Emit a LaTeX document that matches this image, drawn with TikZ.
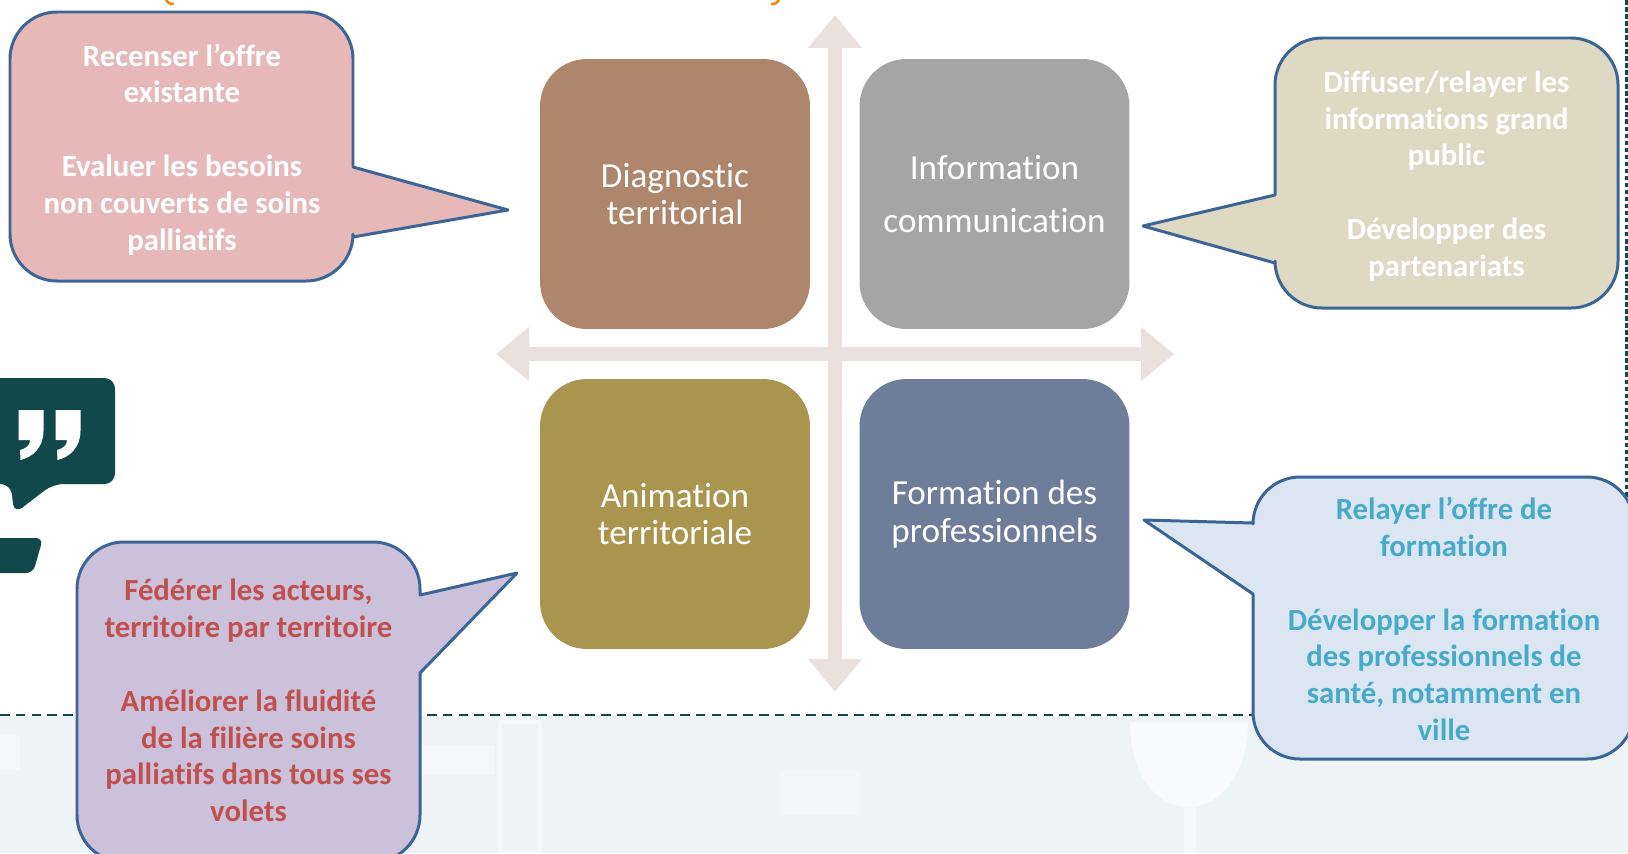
\documentclass[tikz,border=0pt]{standalone}
\usepackage{xcolor}
\usepackage{fontspec}
\setmainfont{Carlito}[Ligatures=NoCommon]
\usetikzlibrary{arrows.meta}
\definecolor{barcol}{HTML}{EAE1DE}
\definecolor{linecol}{HTML}{3B6497}
\definecolor{tealcol}{HTML}{10484B}
\definecolor{seacol}{HTML}{EEF4F6}
\definecolor{redtxt}{HTML}{C0504D}
\definecolor{cyantxt}{HTML}{46AAC8}
\tikzset{
	tile/.style={rounded corners=0.94cm,minimum width=5.4cm,minimum height=5.4cm,align=center,text=white,inner sep=0pt,font=\fontsize{20}{21.5}\selectfont},
	bubble/.style={draw=linecol,line width=1.7pt,line join=round},
	bubbletxt/.style={align=center,inner sep=0pt,font=\bfseries\fontsize{17.5}{21}\selectfont},
	crossbar/.style={barcol,line width=0.28cm,{Triangle[width=1.04cm,length=0.66cm]}-{Triangle[width=1.04cm,length=0.66cm]}},
}
\begin{document}
\begin{tikzpicture}[x=0.02cm,y=-0.02cm]
		\clip (0,0) rectangle (1628,853);
		\fill[white] (0,0) rectangle (1628,853);
		% sea at the bottom
		\fill[seacol] (0,716) rectangle (1628,853);
		\fill[white,opacity=0.6] (1130,722) -- (1248,722) .. controls (1248,780) and (1215,807) .. (1189,807) .. controls (1160,807) and (1130,780) .. (1130,722) -- cycle;
		\fill[white,opacity=0.4] (1184,807) rectangle (1196,853);
		\draw[white,opacity=0.4,line width=2pt] (500,722) rectangle (540,853);
		\fill[white,opacity=0.3] (0,735) rectangle (20,770);
		\fill[white,opacity=0.3] (420,745) rectangle (495,775);
		\fill[white,opacity=0.25] (780,770) rectangle (860,815);
		% dashed frame
		\coordinate (fl) at (0,715);
		\coordinate (fr) at (1628,715);
		\coordinate (ft) at (1626.5,0);
		\coordinate (fb) at (1626.5,500);
		\draw[tealcol,line width=1.1pt,dash pattern=on 5.5pt off 3.5pt] (fl) -- (fr);
		\draw[tealcol,line width=1.2pt,dash pattern=on 2.6pt off 1.4pt] (ft) -- (fb);
		% title ends
		\draw[orange,line width=1.4pt] (166,0) .. controls (167,3) and (170,4) .. (174,4);
		\draw[orange,line width=1.4pt] (771,4) .. controls (775,4) and (778,3) .. (779,0);
		% cross
		\coordinate (north) at (835,15);
		\coordinate (south) at (835,692);
		\coordinate (west) at (496,354);
		\coordinate (east) at (1174,354);
		\draw[crossbar] (north) -- (south);
		\draw[crossbar] (west) -- (east);
		% tiles
		\node[tile,fill={rgb,255:red,173;green,134;blue,108}] (diag) at (675,194) {Diagnostic\\territorial};
		\node[tile,fill={rgb,255:red,165;green,165;blue,165},font=\fontsize{20}{30}\selectfont] (info) at (994.5,194) {Information\\communication};
		\node[tile,fill={rgb,255:red,170;green,149;blue,79}] (anim) at (675,514) {Animation\\territoriale};
		\node[tile,fill={rgb,255:red,110;green,125;blue,153}] (form) at (994.5,514) {Formation des\\professionnels};
		% bubbles
		\draw[bubble,fill={rgb,255:red,230;green,184;blue,183}] (353,237) [rounded corners=0.94cm] -- (353,281) -- (10,281) -- (10,12) -- (353,12) [sharp corners] -- (353,167) -- (508,210) -- cycle;
		\draw[bubble,fill={rgb,255:red,221;green,217;blue,195}] (1275,195) [rounded corners=0.94cm] -- (1275,38) -- (1618,38) -- (1618,308) -- (1275,308) [sharp corners] -- (1275,263) -- (1143,226) -- cycle;
		\draw[bubble,fill={rgb,255:red,204;green,193;blue,218}] (420,673) [rounded corners=0.94cm] -- (420,862) -- (77,862) -- (77,542) -- (420,542) [sharp corners] -- (420,595) -- (517,573) -- cycle;
		\draw[bubble,fill={rgb,255:red,220;green,230;blue,242}] (1253,523) [rounded corners=0.94cm] -- (1253,477) -- (1634,477) -- (1634,759) -- (1253,759) [sharp corners] -- (1253,594) -- (1144,520) -- cycle;
		\node[bubbletxt,text=white] (recense) at (182,149.5) {Recenser l’offre\\existante\\[21pt]Evaluer les besoins\\non couverts de soins\\palliatifs};
		\node[bubbletxt,text=white] (diffuse) at (1446.5,176) {Diffuser/relayer les\\informations grand\\public\\[21pt]Développer des\\partenariats};
		\node[bubbletxt,text=redtxt] (federe) at (248.5,700.5) {Fédérer les acteurs,\\territoire par territoire\\[21pt]Améliorer la fluidité\\de la filière soins\\palliatifs dans tous ses\\volets};
		\node[bubbletxt,text=cyantxt] (relaie) at (1444,619) {Relayer l’offre de\\formation\\[21pt]Développer la formation\\des professionnels de\\santé, notamment en\\ville};
		% speech icon
		\fill[tealcol,rounded corners=6pt] (-20,378) -- (115,378) -- (115,484) -- (53,484) -- (14,514) -- (11,484) -- (-20,484) -- cycle;
		\foreach \dx in {0,37}{
			\fill[white,xshift=\dx*0.02cm] (18.5,410) -- (43.5,410) -- (43.5,431) .. controls (43.5,447) and (33,457) .. (20.5,460) -- (20,450) .. controls (27,448) and (30,445) .. (30,440) -- (18.5,440) -- cycle;
		}
		\fill[tealcol,rounded corners=4pt] (-20,538) -- (43,538) -- (33,573) -- (-20,573) -- cycle;
	\end{tikzpicture}
\end{document}
